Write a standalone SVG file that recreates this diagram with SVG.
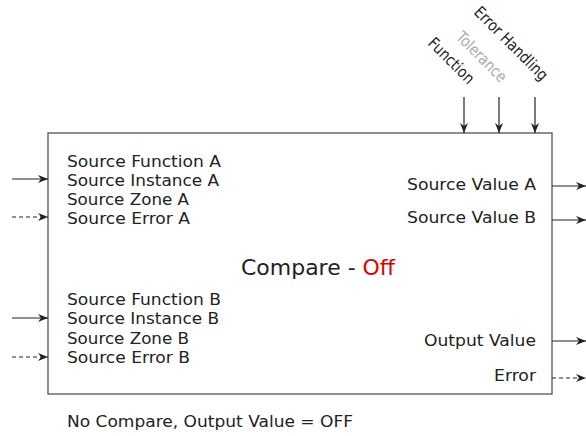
<svg xmlns="http://www.w3.org/2000/svg" width="586" height="436" viewBox="0 0 586 436">
<defs>
<marker id="ah" viewBox="0 0 10 10" refX="10" refY="5" markerWidth="10" markerHeight="10" markerUnits="userSpaceOnUse" orient="auto">
<path d="M0,1 L10,5 L0,9 L3,5 z" fill="#222"/>
</marker>
</defs>
<style>
text{font-family:"DejaVu Sans","Open Sans",sans-serif;fill:#222;font-size:16px}
.c{stroke:#222;stroke-width:1.2;fill:none;marker-end:url(#ah)}
.d{stroke-dasharray:4,3}
.r{text-anchor:end}
</style>
<rect x="0" y="0" width="586" height="436" fill="#fff"/>
<g id="compare-block">
<rect x="48" y="133" width="504" height="261" fill="#fff" stroke="#555" stroke-width="1.3"/>
<text x="67" y="167" textLength="154" lengthAdjust="spacingAndGlyphs">Source Function A</text>
<text x="67" y="186" textLength="152" lengthAdjust="spacingAndGlyphs">Source Instance A</text>
<text x="67" y="205" textLength="122" lengthAdjust="spacingAndGlyphs">Source Zone A</text>
<text x="67" y="224" textLength="123" lengthAdjust="spacingAndGlyphs">Source Error A</text>
<text x="67" y="305" textLength="154" lengthAdjust="spacingAndGlyphs">Source Function B</text>
<text x="67" y="324" textLength="152" lengthAdjust="spacingAndGlyphs">Source Instance B</text>
<text x="67" y="344" textLength="122" lengthAdjust="spacingAndGlyphs">Source Zone B</text>
<text x="67" y="363" textLength="123" lengthAdjust="spacingAndGlyphs">Source Error B</text>
<text x="536" y="190" class="r" textLength="129" lengthAdjust="spacingAndGlyphs">Source Value A</text>
<text x="536" y="223" class="r" textLength="129" lengthAdjust="spacingAndGlyphs">Source Value B</text>
<text x="536" y="346" class="r" textLength="112" lengthAdjust="spacingAndGlyphs">Output Value</text>
<text x="536" y="381" class="r" textLength="42" lengthAdjust="spacingAndGlyphs">Error</text>
<text x="318" y="275" text-anchor="middle" style="font-size:21px" textLength="154" lengthAdjust="spacingAndGlyphs">Compare - <tspan style="fill:#e00000">Off</tspan></text>
</g>
<g id="param-labels">
<text transform="translate(427,44) rotate(45)" textLength="58" lengthAdjust="spacingAndGlyphs">Function</text>
<text transform="translate(455,38) rotate(45)" style="fill:#aaa" textLength="64" lengthAdjust="spacingAndGlyphs">Tolerance</text>
<text transform="translate(473,13) rotate(45)" textLength="97" lengthAdjust="spacingAndGlyphs">Error Handling</text>
</g>
<g id="footer">
<text x="67" y="427" textLength="286" lengthAdjust="spacingAndGlyphs">No Compare, Output Value = OFF</text>
</g>
<g id="connectors">
<line class="c" x1="464" y1="97" x2="464" y2="133"/>
<line class="c" x1="499" y1="97" x2="499" y2="133"/>
<line class="c" x1="535" y1="97" x2="535" y2="133"/>
<line class="c" x1="12" y1="179" x2="48" y2="179"/>
<line class="c d" x1="12" y1="217" x2="48" y2="217"/>
<line class="c" x1="12" y1="318" x2="48" y2="318"/>
<line class="c d" x1="12" y1="357" x2="48" y2="357"/>
<line class="c" x1="552" y1="186" x2="586" y2="186"/>
<line class="c" x1="552" y1="220" x2="586" y2="220"/>
<line class="c" x1="552" y1="341" x2="586" y2="341"/>
<line class="c d" x1="552" y1="378" x2="586" y2="378"/>
</g>
</svg>
